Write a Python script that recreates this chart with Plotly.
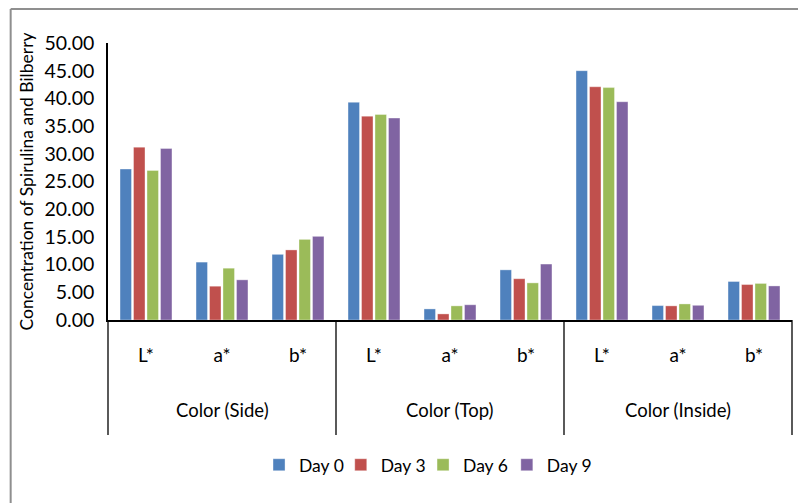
import plotly.graph_objects as go

groups = ["Color (Side)", "Color (Top)", "Color (Inside)"]
subcats = ["L*", "a*", "b*"]
series_names = ["Day 0", "Day 3", "Day 6", "Day 9"]
colors = ["#4F81BD", "#C0504D", "#9BBB59", "#8064A2"]

day0 = [27.25, 10.45, 11.85, 39.30, 2.00, 9.05, 45.00, 2.60, 6.95]
day3 = [31.20, 6.10, 12.65, 36.80, 1.10, 7.45, 42.10, 2.55, 6.40]
day6 = [27.00, 9.35, 14.55, 37.10, 2.55, 6.70, 41.95, 2.90, 6.60]
day9 = [30.95, 7.25, 15.10, 36.45, 2.75, 10.10, 39.40, 2.65, 6.15]
series_values = [day0, day3, day6, day9]

y_ticks = [0, 5, 10, 15, 20, 25, 30, 35, 40, 45, 50]

FONT = "Lato, 'Open Sans', sans-serif"
FS = 18.5

n_cat = len(groups) * len(subcats)
xpos = list(range(n_cat))
tick_text = [s for g in groups for s in subcats]

# each series gets its own one-item legend so the entries can be spaced like the original
legend_ids = ["legend", "legend2", "legend3", "legend4"]
legend_x = [0.2208, 0.3403, 0.4606, 0.5831]

fig = go.Figure()
for name, vals, col, lid in zip(series_names, series_values, colors, legend_ids):
    fig.add_trace(go.Bar(
        x=xpos, y=vals, name=name, legend=lid,
        marker=dict(color=col, line=dict(width=0.6, color="rgba(255,255,255,0.6)")),
    ))

shapes = []
# group dividers below the axis
for k in range(len(groups) + 1):
    xd = k * len(subcats) / n_cat
    shapes.append(dict(type="line", xref="x domain", yref="paper",
                       x0=xd, x1=xd, y0=0, y1=-0.415,
                       line=dict(color="black", width=1.3)))
# chart frame (top and left visible)
shapes.append(dict(type="line", xref="paper", yref="paper",
                   x0=-0.1423, x1=1.03, y0=1.1227, y1=1.1227,
                   line=dict(color="#8f8f8f", width=2)))
shapes.append(dict(type="line", xref="paper", yref="paper",
                   x0=-0.1423, x1=-0.1423, y0=1.1227, y1=-0.7,
                   line=dict(color="#8f8f8f", width=2)))

annotations = []
for i, g in enumerate(groups):
    annotations.append(dict(
        x=i * len(subcats) + (len(subcats) - 1) / 2, xref="x",
        y=-0.325, yref="paper", text=g, showarrow=False,
        font=dict(family=FONT, size=FS, color="black"),
        xanchor="center", yanchor="middle"))

legends = {}
for lid, lx in zip(legend_ids, legend_x):
    legends[lid] = dict(orientation="h", x=lx, xanchor="left",
                        y=-0.523, yanchor="middle",
                        font=dict(family=FONT, size=17.5, color="black"),
                        bgcolor="rgba(0,0,0,0)")

# the page adds an 8px body margin, so the figure is sized to fit inside it
fig.update_layout(
    width=798, height=495,
    margin=dict(l=100, r=14, t=35, b=183),
    paper_bgcolor="white", plot_bgcolor="white",
    barmode="group", bargap=0.29, bargroupgap=0.15,
    font=dict(family=FONT, size=FS, color="black"),
    showlegend=True,
    shapes=shapes,
    annotations=annotations,
    xaxis=dict(
        range=[-0.5, n_cat - 0.5],
        tickmode="array", tickvals=xpos, ticktext=tick_text,
        showline=True, linecolor="black", linewidth=1.5,
        showgrid=False, zeroline=False, ticks="",
        ticklabelstandoff=17,
        tickfont=dict(family=FONT, size=19, color="black"),
        fixedrange=True,
    ),
    yaxis=dict(
        range=[0, 50],
        tickmode="array", tickvals=y_ticks,
        tickformat=".2f",
        showline=True, linecolor="black", linewidth=1.5,
        showgrid=False, zeroline=False, ticks="",
        ticklabelstandoff=8,
        tickfont=dict(family=FONT, size=19.5, color="black"),
        title=dict(text="Concentration of Spirulina and Bilberry",
                   font=dict(family=FONT, size=17.5, color="black"),
                   standoff=6),
        fixedrange=True,
    ),
    **legends,
)

fig.write_html("out.html")
